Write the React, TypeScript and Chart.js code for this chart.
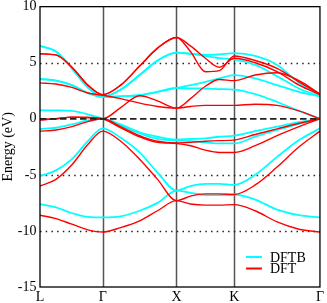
import React, { useEffect, useRef } from 'react';
import { Chart, registerables } from 'chart.js';
Chart.register(...registerables);

// k-path (arbitrary units along the path)
const kTicks = [0, 0.63, 1.37, 1.95, 2.81];
const kTickLabels = ['L', 'Γ', 'X', 'K', 'Γ'];
const kGrid = [0, 0.16, 0.32, 0.48, 0.63, 0.81, 1.0, 1.18, 1.37, 1.51, 1.66, 1.8, 1.95, 2.16, 2.38, 2.6, 2.81];

const yTicks = [10, 5, 0, -5, -10, -15];
const dottedLevels = [5, -5, -10];
const fermiLevel = 0;

// DFTB bands (eV)
const dftb1 = [-7.6, -7.9, -8.4, -8.75, -8.8, -8.7, -8.2, -7.5, -6.4, -6.6, -6.8, -6.8, -6.75, -7.2, -8.1, -8.6, -8.8];
const dftb2 = [-5.1, -4.6, -3.6, -2.0, -0.85, -1.7, -3.0, -4.8, -6.4, -6.0, -5.8, -5.8, -5.9, -5.0, -3.4, -1.9, -0.85];
const dftb3 = [-0.9, -0.8, -0.5, -0.15, 0, -0.5, -1.2, -1.6, -1.85, -1.8, -1.75, -1.6, -1.5, -1.1, -0.7, -0.3, 0];
const dftb4 = [0.76, 0.75, 0.7, 0.4, 0, -0.6, -1.3, -1.8, -1.95, -2.0, -2.1, -2.2, -2.2, -1.6, -1.0, -0.45, 0];
const dftb5 = [3.55, 3.4, 3.0, 2.3, 1.95, 2.0, 2.1, 2.4, 2.75, 3.0, 3.3, 3.6, 3.9, 3.6, 3.0, 2.4, 2.0];
const dftb6 = [3.55, 3.4, 3.0, 2.3, 1.95, 2.0, 2.1, 2.4, 2.75, 2.7, 2.7, 2.65, 2.6, 2.2, 1.5, 0.7, 0];
const dftb7 = [6.5, 6.0, 4.5, 2.8, 1.95, 2.6, 3.9, 5.2, 5.9, 5.8, 5.7, 5.75, 5.85, 5.6, 4.8, 3.2, 2.1];
const dftb8 = [6.5, 6.0, 4.5, 2.8, 1.95, 2.6, 3.9, 5.2, 5.9, 5.8, 5.6, 5.4, 5.3, 4.8, 3.8, 2.7, 2.0];

// DFT bands (eV)
const dft1 = [-8.6, -8.9, -9.4, -9.9, -10.1, -9.7, -9.1, -8.2, -7.3, -7.6, -7.7, -7.7, -7.65, -8.2, -9.2, -9.85, -10.1];
const dft2 = [-6.0, -5.4, -4.1, -2.3, -1.1, -2.0, -3.6, -5.4, -7.3, -6.9, -6.7, -6.7, -6.75, -5.9, -4.3, -2.5, -1.1];
const dft3 = [-1.1, -1.0, -0.7, -0.25, 0, -0.7, -1.5, -2.0, -2.15, -2.1, -2.0, -1.95, -1.9, -1.4, -0.9, -0.4, 0];
const dft4 = [-0.1, 0.0, 0.15, 0.12, 0, -0.8, -1.6, -2.1, -2.2, -2.4, -2.8, -3.0, -3.0, -2.4, -1.5, -0.7, 0];
const dft5 = [3.2, 3.1, 2.8, 2.3, 2.1, 1.8, 1.4, 1.1, 0.95, 1.8, 2.9, 3.5, 3.4, 3.9, 4.1, 3.4, 2.2];
const dft6 = [-0.1, 0.0, 0.15, 0.12, 0, 1.0, 2.05, 1.6, 0.95, 1.1, 1.2, 1.2, 1.2, 1.3, 1.2, 0.7, 0];
const dft7 = [5.8, 5.7, 4.6, 3.0, 2.15, 3.0, 4.7, 6.3, 7.25, 6.5, 5.4, 4.6, 5.4, 5.0, 4.2, 3.0, 2.15];
const dft8 = [5.8, 5.7, 4.6, 3.0, 2.15, 3.0, 4.7, 6.3, 7.25, 6.0, 4.2, 4.3, 5.6, 5.2, 4.5, 3.3, 2.2];

const dftbBands = [dftb1, dftb2, dftb3, dftb4, dftb5, dftb6, dftb7, dftb8];
const dftBands = [dft1, dft2, dft3, dft4, dft5, dft6, dft7, dft8];

const legendItems = [
  { label: 'DFTB', color: '#00ffff' },
  { label: 'DFT', color: '#ff0000' },
];

const FONT = "'Liberation Serif', 'DejaVu Serif', serif";

const refPlugin = {
  id: 'refLines',
  beforeDatasetsDraw(chart: any) {
    const { ctx, chartArea: a, scales } = chart;
    const xs = scales.x, ys = scales.y;
    ctx.save();
    ctx.strokeStyle = '#555';
    ctx.lineWidth = 1.5;
    kTicks.slice(1, -1).forEach((k) => {
      const px = Math.round(xs.getPixelForValue(k)) + 0.5;
      ctx.beginPath();
      ctx.moveTo(px, a.top);
      ctx.lineTo(px, a.bottom);
      ctx.stroke();
    });
    ctx.strokeStyle = '#222';
    ctx.lineWidth = 1.5;
    ctx.setLineDash([1.5, 4.2]);
    dottedLevels.forEach((e) => {
      const py = Math.round(ys.getPixelForValue(e)) + 0.5;
      ctx.beginPath();
      ctx.moveTo(a.left, py);
      ctx.lineTo(a.right, py);
      ctx.stroke();
    });
    ctx.restore();
  },
  afterDatasetsDraw(chart: any) {
    const { ctx, chartArea: a, scales } = chart;
    const ys = scales.y;
    ctx.save();
    ctx.strokeStyle = '#222';
    ctx.lineWidth = 1.8;
    ctx.setLineDash([6.5, 3.5]);
    const pz = ys.getPixelForValue(fermiLevel);
    ctx.beginPath();
    ctx.moveTo(a.left, pz);
    ctx.lineTo(a.right, pz);
    ctx.stroke();
    ctx.setLineDash([]);
    ctx.strokeStyle = '#000';
    ctx.lineWidth = 1.3;
    ctx.strokeRect(a.left, a.top, a.right - a.left, a.bottom - a.top);
    // legend
    ctx.font = `14px ${FONT}`;
    ctx.textBaseline = 'middle';
    ctx.textAlign = 'left';
    legendItems.forEach((it, i) => {
      const ly = a.bottom - 30 + i * 11.5;
      const lx = a.right - 74;
      ctx.strokeStyle = it.color;
      ctx.lineWidth = 2;
      ctx.beginPath();
      ctx.moveTo(lx, ly);
      ctx.lineTo(lx + 16, ly);
      ctx.stroke();
      ctx.fillStyle = '#000';
      ctx.fillText(it.label, lx + 24, ly + 1);
    });
    ctx.restore();
  },
};

export default function App() {
  const ref = useRef<HTMLCanvasElement>(null);
  useEffect(() => {
    document.body.style.margin = '0';
    const toPts = (b: number[]) => b.map((e, i) => ({ x: kGrid[i], y: e }));
    const datasets: any[] = [];
    dftBands.forEach((b, i) =>
      datasets.push({
        label: 'DFT ' + (i + 1),
        data: toPts(b),
        borderColor: '#ff0000',
        borderWidth: 1.4,
        pointRadius: 0,
        cubicInterpolationMode: 'monotone',
        fill: false,
      })
    );
    dftbBands.forEach((b, i) =>
      datasets.push({
        label: 'DFTB ' + (i + 1),
        data: toPts(b),
        borderColor: '#00ffff',
        borderWidth: 1.8,
        pointRadius: 0,
        cubicInterpolationMode: 'monotone',
        fill: false,
      })
    );
    const chart = new Chart(ref.current!, {
      type: 'line',
      data: { datasets },
      options: {
        animation: false,
        responsive: false,
        maintainAspectRatio: false,
        layout: { padding: { top: 0, right: 4, left: 0, bottom: 0 } },
        plugins: { legend: { display: false }, tooltip: { enabled: false } },
        scales: {
          x: {
            type: 'linear',
            min: kTicks[0],
            max: kTicks[kTicks.length - 1],
            grid: { display: false, drawTicks: false },
            border: { display: false },
            afterBuildTicks: (s: any) => {
              s.ticks = kTicks.map((v) => ({ value: v }));
            },
            afterFit: (s: any) => {
              s.height = 16;
            },
            ticks: {
              autoSkip: false,
              maxRotation: 0,
              padding: 3,
              color: '#000',
              font: { family: FONT, size: 14, lineHeight: 1.1 },
              callback: (v: any) => {
                const i = kTicks.indexOf(Number(v));
                return i >= 0 ? kTickLabels[i] : '';
              },
            },
          },
          y: {
            type: 'linear',
            min: -15,
            max: 10,
            grid: { display: false, drawTicks: false },
            border: { display: false },
            afterBuildTicks: (s: any) => {
              s.ticks = yTicks.map((v) => ({ value: v }));
            },
            afterFit: (s: any) => {
              s.width = 40;
            },
            ticks: {
              padding: 3.5,
              color: '#000',
              font: { family: FONT, size: 14, lineHeight: 0.45 },
            },
            title: {
              display: true,
              text: 'Energy (eV)',
              color: '#000',
              padding: 0,
              font: { family: FONT, size: 14 },
            },
          },
        },
      },
      plugins: [refPlugin],
    });
    return () => chart.destroy();
  }, []);
  return (
    <div style={{ position: 'fixed', left: 0, top: 0, width: 327, height: 303 }}>
      <canvas ref={ref} width={327} height={303} style={{ display: 'block' }} />
    </div>
  );
}
